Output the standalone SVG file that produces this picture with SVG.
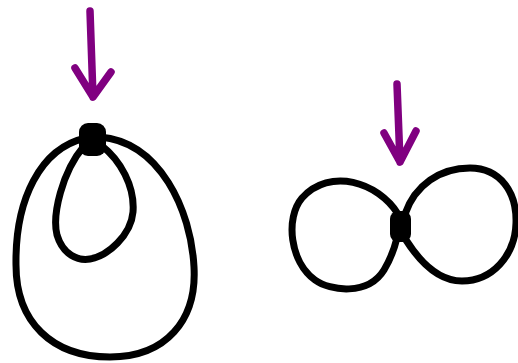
<svg xmlns="http://www.w3.org/2000/svg" width="518" height="363" viewBox="0 0 518 363">
<style>
.edge{fill:none;stroke:#000;stroke-width:7;stroke-linecap:round;stroke-linejoin:round}
.arrow{fill:none;stroke:#800080;stroke-width:7.5;stroke-linecap:round;stroke-linejoin:round}
.node{fill:#000}
</style>
<rect width="518" height="363" fill="#fff"/>
<g id="connectors">
<path class="edge" d="M 86 138 C 40 148, 15 200, 16 265 C 16 322, 52 357, 110 357 C 166 357, 197 320, 194 267 C 191 210, 160 142, 100 137"/>
<path class="edge" d="M 84 146 C 62 172, 52 215, 57 235 C 63 255, 78 261, 90 259 C 108 256, 131 235, 133 212 C 135 186, 120 160, 102 146"/>
<path class="edge" d="M 398 214 C 378 182, 330 167, 302 198 C 285 218, 290 262, 315 280 C 330 291, 368 296, 384 270 C 390 260, 394 250, 397 238"/>
<path class="edge" d="M 405 214 C 415 185, 440 168, 470 168 C 500 168, 517 192, 516 223 C 515 256, 492 281, 462 281 C 438 281, 420 262, 406 240"/>
<path class="arrow" d="M 90 11 L 93 97 M 75 68 L 93 97 L 111 72"/>
<path class="arrow" d="M 397 84 L 400 162 M 384 133 L 400 162 L 416 131"/>
</g>
<g id="node1"><rect class="node" x="79" y="123" width="27" height="33" rx="9"/></g>
<g id="node2"><rect class="node" x="390" y="211" width="21" height="31" rx="8"/></g>
</svg>
